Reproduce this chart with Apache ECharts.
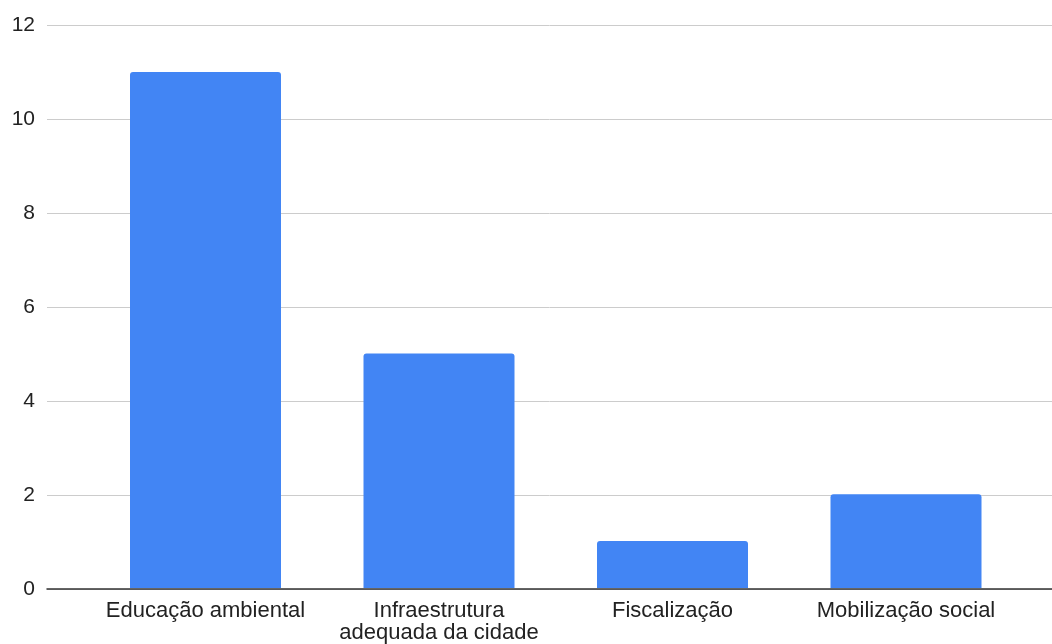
<!DOCTYPE html>
<html>
<head>
<meta charset="utf-8">
<script src="https://cdn.jsdelivr.net/npm/echarts@6/dist/echarts.min.js"></script>
<style>html,body{margin:0;padding:0;background:#fff;}#c{width:1052px;height:644px;}</style>
</head>
<body>
<div id="c"></div>
<script>
const categories = ['Educação ambiental', 'Infraestrutura\nadequada da cidade', 'Fiscalização', 'Mobilização social'];
const values = [11, 5, 1, 2];
const yTicks = { min: 0, max: 12, interval: 2 };

const chart = echarts.init(document.getElementById('c'));
const font = '"Liberation Sans", Arial, sans-serif';
chart.setOption({
  animation: false,
  grid: [
    { left: 47, right: -5, top: 25, bottom: 55 },
    { left: 88.75, right: 29.25, top: 25, bottom: 55 }
  ],
  xAxis: [
    { gridIndex: 0, type: 'category', data: [''], axisLine: { show: true, lineStyle: { color: '#333', width: 1.5 } },
      axisTick: { show: false }, axisLabel: { show: false }, z: 5 },
    { gridIndex: 1, type: 'category', data: categories,
      axisLine: { show: false }, axisTick: { show: false },
      axisLabel: { color: '#222', fontSize: 22, fontFamily: font, margin: 12, lineHeight: 22, interval: 0 } }
  ],
  yAxis: [
    { gridIndex: 0, type: 'value', min: yTicks.min, max: yTicks.max, interval: yTicks.interval,
      axisLine: { show: false }, axisTick: { show: false },
      axisLabel: { color: '#222', fontSize: 21, fontFamily: font, margin: 12 },
      splitLine: { lineStyle: { color: '#ccc', width: 1 } } },
    { gridIndex: 1, type: 'value', min: yTicks.min, max: yTicks.max, interval: yTicks.interval,
      axisLine: { show: false }, axisTick: { show: false }, axisLabel: { show: false }, splitLine: { show: false } }
  ],
  series: [{
    type: 'bar', xAxisIndex: 1, yAxisIndex: 1, data: values, barWidth: 151,
    itemStyle: { color: '#4285f4', borderRadius: [3, 3, 0, 0] }, z: 3
  }]
});
</script>
</body>
</html>
